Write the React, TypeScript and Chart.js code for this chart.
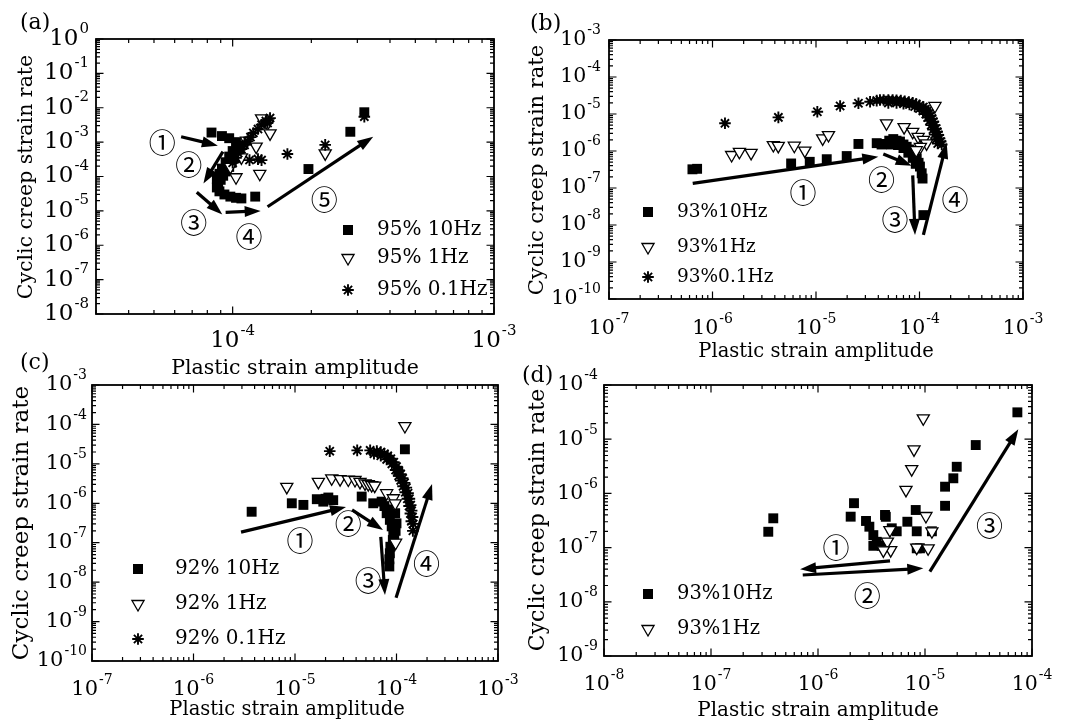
import React, { useEffect, useRef } from 'react';
import { Chart, registerables } from 'chart.js';

Chart.register(...registerables);

type P = [number, number];

// ---------------- Panel (a) ----------------
const a10Hz: P[] = [
  [8.3e-5, 1.9e-3], [9.1e-5, 1.5e-3], [9.7e-5, 1.3e-3], [1.03e-4, 1.0e-3], [1.07e-4, 8.0e-4],
  [1.06e-4, 6.2e-4], [1.04e-4, 4.6e-4], [1.02e-4, 3.4e-4], [9.9e-5, 2.5e-4], [9.7e-5, 1.9e-4],
  [9.4e-5, 1.4e-4], [9.2e-5, 1.05e-4], [9.0e-5, 8.0e-5], [8.8e-5, 6.2e-5], [8.7e-5, 4.8e-5],
  [8.9e-5, 3.7e-5], [9.3e-5, 3.0e-5], [9.8e-5, 2.6e-5], [1.03e-4, 2.4e-5], [1.08e-4, 2.3e-5],
  [1.0e-4, 5.5e-4], [9.7e-5, 3.8e-4], [9.4e-5, 2.6e-4], [9.1e-5, 1.7e-4], [8.9e-5, 1.2e-4],
  [8.7e-5, 8.5e-5], [1.22e-4, 2.6e-5], [1.95e-4, 1.65e-4], [2.82e-4, 2.0e-3], [3.19e-4, 7.4e-3],
];
const a1Hz: P[] = [
  [1.29e-4, 4.9e-3], [1.36e-4, 3.5e-3], [1.39e-4, 1.8e-3], [1.23e-4, 7.4e-4], [1.27e-4, 1.2e-4],
  [1.03e-4, 9.5e-5], [9.8e-5, 1.9e-4], [1.08e-4, 3.6e-4], [1.13e-4, 1.1e-3], [2.26e-4, 4.7e-4],
];
const a01Hz: P[] = [
  [1.0e-4, 2.5e-4], [1.03e-4, 3.5e-4], [1.05e-4, 4.8e-4], [1.08e-4, 6.3e-4], [1.11e-4, 8.3e-4],
  [1.14e-4, 1.07e-3], [1.17e-4, 1.4e-3], [1.2e-4, 1.85e-3], [1.25e-4, 2.4e-3], [1.29e-4, 3.2e-3],
  [1.34e-4, 4.1e-3], [1.39e-4, 5.0e-3], [1.36e-4, 3.6e-3], [1.16e-4, 3.0e-4], [1.25e-4, 3.2e-4],
  [1.29e-4, 3.0e-4], [1.62e-4, 4.5e-4], [2.26e-4, 8.3e-4], [3.19e-4, 5.5e-3],
];
const aArrows: [P, P][] = [
  [[6.35e-5, 1.44e-3], [8.78e-5, 7.9e-4]],
  [[9.18e-5, 5.3e-4], [7.73e-5, 6.3e-5]],
  [[7.29e-5, 3.5e-5], [9.13e-5, 7.9e-6]],
  [[9.4e-5, 9.1e-6], [1.28e-4, 1.0e-5]],
  [[1.36e-4, 1.32e-5], [3.45e-4, 1.44e-3]],
];
const aMarks: P[] = [[5.38e-5, 9.3e-4], [6.79e-5, 2.26e-4], [7.1e-5, 4.5e-6], [1.155e-4, 1.78e-6], [2.24e-4, 2.1e-5]];
const aXTicks = [1e-4, 1e-3];
const aYTicks = [1e0, 1e-1, 1e-2, 1e-3, 1e-4, 1e-5, 1e-6, 1e-7, 1e-8];
const aNames = ['95% 10Hz', '95% 1Hz', '95% 0.1Hz'];

// ---------------- Panel (b) ----------------
const b10Hz: P[] = [
  [6.4e-7, 3.2e-7], [7.1e-7, 3.3e-7], [5.75e-6, 4.6e-7], [8.7e-6, 5.1e-7], [1.27e-5, 6.0e-7],
  [1.98e-5, 7.3e-7], [2.57e-5, 1.55e-6], [3.86e-5, 1.63e-6], [4.3e-5, 1.5e-6], [4.64e-5, 1.55e-6],
  [5.1e-5, 1.9e-6], [5.58e-5, 2.1e-6], [6.0e-5, 1.9e-6], [6.48e-5, 1.8e-6], [7.0e-5, 1.5e-6],
  [7.52e-5, 1.3e-6], [8.0e-5, 1.1e-6], [8.4e-5, 9.6e-7], [8.9e-5, 7.8e-7], [9.4e-5, 6.3e-7],
  [9.8e-5, 4.8e-7], [1.01e-4, 3.8e-7], [1.05e-4, 2.5e-7], [1.07e-4, 1.8e-7], [5.3e-5, 1.5e-6],
  [6.2e-5, 1.45e-6], [7.0e-5, 1.2e-6], [7.8e-5, 9e-7], [8.6e-5, 6.5e-7], [9.2e-5, 4.5e-7],
  [1.09e-4, 1.85e-8],
];
const b1Hz: P[] = [
  [1.53e-6, 7.8e-7], [1.82e-6, 9.5e-7], [2.36e-6, 8.9e-7], [3.87e-6, 1.45e-6], [4.32e-6, 1.37e-6],
  [6.17e-6, 1.39e-6], [7.8e-6, 1.02e-6], [1.16e-5, 2.2e-6], [1.32e-5, 2.7e-6], [4.8e-5, 5.6e-6],
  [7.1e-5, 4.4e-6], [8.6e-5, 3.3e-6], [9.7e-5, 2.4e-6], [1.09e-4, 2.0e-6], [1.17e-4, 1.6e-6],
  [1.02e-4, 1.3e-6], [9.3e-5, 1.05e-6], [1.41e-4, 1.65e-5],
];
const b01Hz: P[] = [
  [1.32e-6, 5.6e-6], [4.33e-6, 8.1e-6], [1.03e-5, 1.15e-5], [1.71e-5, 1.65e-5], [2.57e-5, 1.95e-5],
  [3.33e-5, 2.15e-5], [3.86e-5, 2.3e-5], [4.15e-5, 2.4e-5], [4.5e-5, 2.4e-5], [5.0e-5, 2.4e-5],
  [5.5e-5, 2.4e-5], [6.0e-5, 2.35e-5], [6.6e-5, 2.3e-5], [7.2e-5, 2.2e-5], [7.9e-5, 2.1e-5],
  [8.6e-5, 2.0e-5], [9.3e-5, 1.85e-5], [1.0e-4, 1.7e-5], [1.09e-4, 1.55e-5], [1.14e-4, 1.35e-5],
  [1.18e-4, 1.2e-5], [1.23e-4, 1.05e-5], [1.28e-4, 9e-6], [1.32e-4, 7.5e-6], [1.36e-4, 6.2e-6],
  [1.4e-4, 5e-6], [1.44e-4, 4e-6], [1.48e-4, 3.3e-6], [1.52e-4, 2.7e-6], [1.56e-4, 2.2e-6],
  [1.6e-4, 1.8e-6], [1.64e-4, 1.5e-6], [5e-5, 2.0e-5], [6e-5, 2.0e-5], [7e-5, 1.9e-5],
  [8e-5, 1.8e-5], [9e-5, 1.6e-5], [1.0e-4, 1.4e-5], [1.08e-4, 1.2e-5], [1.15e-4, 1.0e-5],
  [1.2e-4, 8e-6], [1.25e-4, 6.5e-6], [1.3e-4, 5e-6], [1.35e-4, 3.8e-6], [1.4e-4, 2.8e-6],
  [1.45e-4, 2.1e-6], [1.5e-4, 1.6e-6],
];
const bArrows: [P, P][] = [
  [[6.44e-7, 1.34e-7], [4.0e-5, 7.0e-7]],
  [[4.47e-5, 8.3e-7], [8.4e-5, 4.0e-7]],
  [[8.6e-5, 2.2e-7], [9.05e-5, 5.4e-9]],
  [[1.09e-4, 5.4e-9], [1.83e-4, 1.67e-6]],
];
const bMarks: P[] = [[7.5e-6, 7.4e-8], [4.3e-5, 1.66e-7], [5.8e-5, 1.38e-8], [2.2e-4, 4.8e-8]];
const bXTicks = [1e-7, 1e-6, 1e-5, 1e-4, 1e-3];
const bYTicks = [1e-3, 1e-4, 1e-5, 1e-6, 1e-7, 1e-8, 1e-9, 1e-10];
const bNames = ['93%10Hz', '93%1Hz', '93%0.1Hz'];

// ---------------- Panel (c) ----------------
const c10Hz: P[] = [
  [3.74e-6, 6.1e-7], [9.3e-6, 1.0e-6], [1.21e-5, 9.1e-7], [1.64e-5, 1.27e-6], [1.9e-5, 1.1e-6],
  [2.13e-5, 1.4e-6], [2.38e-5, 1.2e-6], [2.0e-5, 1.3e-6], [4.54e-5, 1.48e-6], [5.9e-5, 1.0e-6],
  [7.14e-5, 1.1e-6], [1.21e-4, 2.34e-5], [1.04e-4, 6.3e-6], [8.0e-5, 5.6e-7], [8.6e-5, 3.8e-7],
  [8.97e-5, 2.6e-7], [9.3e-5, 1.74e-7], [9.2e-5, 1.17e-7], [8.7e-5, 7.9e-8], [8.6e-5, 5.4e-8],
  [8.5e-5, 3.8e-8], [8.5e-5, 2.5e-8], [9.7e-5, 5.6e-7], [1.0e-4, 3.1e-7], [9.8e-5, 2e-7],
  [9.5e-5, 1.3e-7], [7.6e-5, 8.5e-7], [8.3e-5, 7e-7],
];
const c1Hz: P[] = [
  [8.3e-6, 2.6e-6], [1.7e-5, 3.5e-6], [2.3e-5, 4.3e-6], [2.78e-5, 4.1e-6], [3.35e-5, 4.0e-6],
  [3.9e-5, 3.9e-6], [4.37e-5, 3.5e-6], [4.9e-5, 3.2e-6], [5.27e-5, 3.05e-6], [5.7e-5, 2.9e-6],
  [6.1e-5, 2.8e-6], [8.0e-5, 1.8e-6], [9.3e-5, 1.34e-6], [9.7e-5, 1.0e-6], [1.21e-4, 9.1e-5],
  [9.8e-5, 1.0e-7],
];
const c01Hz: P[] = [
  [2.2e-5, 2.1e-5], [4.1e-5, 2.2e-5], [5.5e-5, 2.2e-5], [6.4e-5, 2.1e-5], [7e-5, 2.0e-5],
  [7.6e-5, 1.8e-5], [8.2e-5, 1.6e-5], [8.8e-5, 1.35e-5], [9.4e-5, 1.1e-5], [1.0e-4, 8.5e-6],
  [1.05e-4, 6.8e-6], [1.1e-4, 5.5e-6], [1.15e-4, 4.3e-6], [1.2e-4, 3.3e-6], [1.25e-4, 2.5e-6],
  [1.3e-4, 1.8e-6], [1.34e-4, 1.3e-6], [1.38e-4, 9e-7], [1.41e-4, 6.5e-7], [1.44e-4, 4.5e-7],
  [1.46e-4, 3e-7], [1.45e-4, 2e-7], [6e-5, 1.8e-5], [7e-5, 1.6e-5], [8e-5, 1.3e-5],
  [9e-5, 1.0e-5], [9.8e-5, 7e-6], [1.05e-4, 5e-6], [1.1e-4, 3.8e-6], [1.16e-4, 2.7e-6],
  [1.22e-4, 1.9e-6], [1.28e-4, 1.3e-6], [1.33e-4, 8.5e-7], [1.37e-4, 5.5e-7], [1.4e-4, 3.5e-7],
];
const cArrows: [P, P][] = [
  [[2.94e-6, 1.85e-7], [3.18e-5, 8.1e-7]],
  [[3.65e-5, 6.8e-7], [7.36e-5, 2.1e-7]],
  [[7.0e-5, 1.4e-7], [7.7e-5, 4.7e-9]],
  [[9.9e-5, 4.0e-9], [2.24e-4, 3.1e-6]],
];
const cMarks: P[] = [[1.12e-5, 1.1e-7], [3.35e-5, 3.1e-7], [5.27e-5, 1.1e-8], [1.98e-4, 3.0e-8]];
const cXTicks = [1e-7, 1e-6, 1e-5, 1e-4, 1e-3];
const cYTicks = [1e-3, 1e-4, 1e-5, 1e-6, 1e-7, 1e-8, 1e-9, 1e-10];
const cNames = ['92% 10Hz', '92% 1Hz', '92% 0.1Hz'];

// ---------------- Panel (d) ----------------
const d10Hz: P[] = [
  [3.43e-7, 1.96e-7], [3.82e-7, 3.47e-7], [2.02e-6, 3.72e-7], [2.17e-6, 6.6e-7], [2.81e-6, 3.1e-7],
  [3.02e-6, 2.43e-7], [3.29e-6, 1.7e-7], [3.54e-6, 1.28e-7], [3.29e-6, 1.08e-7], [3.94e-6, 1.08e-7],
  [4.23e-6, 4.0e-7], [4.3e-6, 3.7e-7], [4.89e-6, 2.27e-7], [5.44e-6, 2.0e-7], [6.84e-6, 3.0e-7],
  [8.19e-6, 4.94e-7], [8.37e-6, 2.0e-7], [8.37e-6, 9.7e-8], [8.98e-6, 9.7e-8], [1.16e-5, 2.0e-7],
  [1.54e-5, 5.9e-7], [1.54e-5, 1.33e-6], [1.84e-5, 1.9e-6], [1.98e-5, 3.1e-6], [2.98e-5, 7.8e-6],
  [7.3e-5, 3.13e-5],
];
const d1Hz: P[] = [
  [9.64e-6, 2.43e-5], [7.89e-6, 6.5e-6], [7.51e-6, 2.8e-6], [6.64e-6, 1.16e-6], [1.02e-5, 3.83e-7],
  [4.45e-6, 1.29e-7], [4.78e-6, 9.0e-8], [4.08e-6, 8.9e-8], [8.37e-6, 1.0e-7], [1.07e-5, 9.7e-8],
  [4.7e-6, 2.1e-7], [1.16e-5, 2.0e-7],
];
const dArrows: [P, P][] = [
  [[4.71e-6, 5.67e-8], [6.8e-7, 4.0e-8]],
  [[7.2e-7, 3.12e-8], [9.64e-6, 4.15e-8]],
  [[1.11e-5, 3.59e-8], [7.45e-5, 1.52e-5]],
];
const dMarks: P[] = [[1.47e-6, 9.8e-8], [2.89e-6, 1.29e-8], [4.0e-5, 2.5e-7]];
const dXTicks = [1e-8, 1e-7, 1e-6, 1e-5, 1e-4];
const dYTicks = [1e-4, 1e-5, 1e-6, 1e-7, 1e-8, 1e-9];
const dNames = ['93%10Hz', '93%1Hz'];

const circled = ['\u2460', '\u2461', '\u2462', '\u2463', '\u2464'];

// ---------------- layout / style ----------------
const W = 1067;
const H = 727;
const FONT = '"DejaVu Serif", "Liberation Serif", serif';
const CFONT = '"Noto Sans CJK JP", "Noto Sans CJK SC", "DejaVu Sans", serif';
type Kind = 'sq' | 'tri' | 'star';
const kinds: Kind[] = ['sq', 'tri', 'star'];

interface PanelCfg {
  id: string;
  label: string;
  labelAt: [number, number];
  area: { l: number; t: number; r: number; b: number };
  xr: [number, number];
  yr: [number, number];
  xTicks: number[];
  yTicks: number[];
  tick: number;
  sup: number;
  xLabelDy: number;
  yLabelGap: number;
  xTitle: [number, number, number];
  yTitle: [number, number, number];
  legend: { mx: number; tx: number; ys: number[]; size: number };
  names: string[];
  series: P[][];
  arrows: [P, P][];
  marks: P[];
}

const panels: PanelCfg[] = [
  {
    id: 'a', label: '(a)', labelAt: [20, 23], area: { l: 96, t: 39, r: 494, b: 314 },
    xr: [3e-5, 1e-3], yr: [1e-8, 1], xTicks: aXTicks, yTicks: aYTicks, tick: 23, sup: 15,
    xLabelDy: 27, yLabelGap: 7, xTitle: [295, 369, 20.5], yTitle: [27, 177, 20.5],
    legend: { mx: 348, tx: 377, ys: [230, 258, 290], size: 20 }, names: aNames,
    series: [a10Hz, a1Hz, a01Hz], arrows: aArrows, marks: aMarks,
  },
  {
    id: 'b', label: '(b)', labelAt: [530, 24], area: { l: 609, t: 40, r: 1023, b: 299 },
    xr: [1e-7, 1e-3], yr: [1e-10, 1e-3], xTicks: bXTicks, yTicks: bYTicks, tick: 20.5, sup: 14,
    xLabelDy: 29.5, yLabelGap: 8, xTitle: [816, 352, 19.5], yTitle: [538, 170, 21],
    legend: { mx: 648, tx: 677, ys: [212, 247, 277], size: 18.5 }, names: bNames,
    series: [b10Hz, b1Hz, b01Hz], arrows: bArrows, marks: bMarks,
  },
  {
    id: 'c', label: '(c)', labelAt: [20, 363], area: { l: 92, t: 385, r: 498, b: 661 },
    xr: [1e-7, 1e-3], yr: [1e-10, 1e-3], xTicks: cXTicks, yTicks: cYTicks, tick: 21, sup: 14,
    xLabelDy: 29, yLabelGap: 5, xTitle: [287, 710, 19.5], yTitle: [22, 523, 23],
    legend: { mx: 138, tx: 175, ys: [569, 604, 639], size: 20 }, names: cNames,
    series: [c10Hz, c1Hz, c01Hz], arrows: cArrows, marks: cMarks,
  },
  {
    id: 'd', label: '(d)', labelAt: [522, 376], area: { l: 604, t: 385, r: 1032, b: 656 },
    xr: [1e-8, 1e-4], yr: [1e-9, 1e-4], xTicks: dXTicks, yTicks: dYTicks, tick: 20.5, sup: 14,
    xLabelDy: 29, yLabelGap: 6, xTitle: [818, 711, 20], yTitle: [538, 520, 22],
    legend: { mx: 648, tx: 677, ys: [594, 629], size: 19.5 }, names: dNames,
    series: [d10Hz, d1Hz], arrows: dArrows, marks: dMarks,
  },
];

function datasetStyle(kind: Kind) {
  if (kind === 'sq') {
    return { pointStyle: 'rect', pointRadius: 7, backgroundColor: '#000', borderColor: '#000', borderWidth: 0, order: 3 };
  }
  if (kind === 'tri') {
    return { pointStyle: 'triangle', pointRotation: 180, pointRadius: 7, backgroundColor: '#fff', borderColor: '#000', borderWidth: 1.3, order: 2 };
  }
  return { pointStyle: 'star', pointRadius: 5.8, backgroundColor: '#000', borderColor: '#000', borderWidth: 1.9, order: 1 };
}

function drawMarker(ctx: CanvasRenderingContext2D, kind: Kind, x: number, y: number) {
  ctx.save();
  ctx.fillStyle = '#000';
  ctx.strokeStyle = '#000';
  if (kind === 'sq') {
    ctx.fillRect(x - 5, y - 5, 10, 10);
  } else if (kind === 'tri') {
    const r = 7;
    ctx.beginPath();
    ctx.moveTo(x, y + r);
    ctx.lineTo(x - 0.866 * r, y - 0.5 * r);
    ctx.lineTo(x + 0.866 * r, y - 0.5 * r);
    ctx.closePath();
    ctx.fillStyle = '#fff';
    ctx.fill();
    ctx.lineWidth = 1.3;
    ctx.stroke();
  } else {
    const r = 5.8;
    const d = r * Math.SQRT1_2;
    ctx.lineWidth = 1.9;
    ctx.beginPath();
    ctx.moveTo(x - r, y); ctx.lineTo(x + r, y);
    ctx.moveTo(x, y - r); ctx.lineTo(x, y + r);
    ctx.moveTo(x - d, y - d); ctx.lineTo(x + d, y + d);
    ctx.moveTo(x - d, y + d); ctx.lineTo(x + d, y - d);
    ctx.stroke();
  }
  ctx.restore();
}

function drawPow(ctx: CanvasRenderingContext2D, v: number, x: number, y: number, align: 'center' | 'right', base: number, sup: number) {
  const ex = Math.round(Math.log10(v));
  const e = ex < 0 ? '-' + Math.abs(ex) : String(ex);
  ctx.font = `${base}px ${FONT}`;
  const wb = ctx.measureText('10').width;
  ctx.font = `${sup}px ${FONT}`;
  const ws = ctx.measureText(e).width;
  const total = wb + ws + 1;
  const x0 = align === 'center' ? x - total / 2 : x - total;
  ctx.textAlign = 'left';
  ctx.textBaseline = 'middle';
  ctx.font = `${base}px ${FONT}`;
  ctx.fillText('10', x0, y);
  ctx.font = `${sup}px ${FONT}`;
  ctx.fillText(e, x0 + wb + 1, y - base * 0.45);
}

function drawArrow(ctx: CanvasRenderingContext2D, x1: number, y1: number, x2: number, y2: number) {
  const ang = Math.atan2(y2 - y1, x2 - x1);
  const hl = 16;
  const hw = 5.5;
  const bx = x2 - Math.cos(ang) * hl * 0.85;
  const by = y2 - Math.sin(ang) * hl * 0.85;
  ctx.save();
  ctx.strokeStyle = '#000';
  ctx.fillStyle = '#000';
  ctx.lineWidth = 3.2;
  ctx.beginPath();
  ctx.moveTo(x1, y1);
  ctx.lineTo(bx, by);
  ctx.stroke();
  const px = -Math.sin(ang);
  const py = Math.cos(ang);
  const hx = x2 - Math.cos(ang) * hl;
  const hy = y2 - Math.sin(ang) * hl;
  ctx.beginPath();
  ctx.moveTo(x2, y2);
  ctx.lineTo(hx + px * hw, hy + py * hw);
  ctx.lineTo(hx - px * hw, hy - py * hw);
  ctx.closePath();
  ctx.fill();
  ctx.restore();
}

function decorPlugin(cfg: PanelCfg) {
  return {
    id: 'decor_' + cfg.id,
    afterDatasetsDraw(chart: any) {
      const ctx: CanvasRenderingContext2D = chart.ctx;
      const xs = chart.scales.x;
      const ys = chart.scales.y;
      const { left, top, right, bottom } = chart.chartArea;
      ctx.save();
      ctx.fillStyle = '#000';
      ctx.strokeStyle = '#000';

      // arrows
      cfg.arrows.forEach(([s, e]) => {
        drawArrow(ctx, xs.getPixelForValue(s[0]), ys.getPixelForValue(s[1]), xs.getPixelForValue(e[0]), ys.getPixelForValue(e[1]));
      });
      // circled step numbers
      ctx.font = `27px ${CFONT}`;
      ctx.textAlign = 'center';
      ctx.textBaseline = 'middle';
      cfg.marks.forEach((m, i) => {
        ctx.fillText(circled[i], xs.getPixelForValue(m[0]), ys.getPixelForValue(m[1]));
      });

      // frame
      ctx.lineWidth = 1.8;
      ctx.strokeRect(left, top, right - left, bottom - top);

      // inward log ticks
      ctx.lineWidth = 1.2;
      ctx.beginPath();
      const logTicks = (scale: any, lo: number, hi: number, cb: (p: number, major: boolean) => void) => {
        const d0 = Math.floor(Math.log10(lo) + 1e-9);
        const d1 = Math.ceil(Math.log10(hi) - 1e-9);
        for (let d = d0; d <= d1; d++) {
          for (let k = 1; k <= 9; k++) {
            const v = k * Math.pow(10, d);
            if (v < lo * (1 - 1e-9) || v > hi * (1 + 1e-9)) continue;
            cb(scale.getPixelForValue(v), k === 1);
          }
        }
      };
      logTicks(xs, cfg.xr[0], cfg.xr[1], (p, major) => {
        const len = major ? 7.5 : 4;
        ctx.moveTo(p, bottom); ctx.lineTo(p, bottom - len);
        ctx.moveTo(p, top); ctx.lineTo(p, top + len);
      });
      logTicks(ys, cfg.yr[0], cfg.yr[1], (p, major) => {
        const len = major ? 7.5 : 4;
        ctx.moveTo(left, p); ctx.lineTo(left + len, p);
        ctx.moveTo(right, p); ctx.lineTo(right - len, p);
      });
      ctx.stroke();

      // tick labels
      cfg.xTicks.forEach((v) => drawPow(ctx, v, xs.getPixelForValue(v), bottom + cfg.xLabelDy, 'center', cfg.tick, cfg.sup));
      cfg.yTicks.forEach((v) => drawPow(ctx, v, left - cfg.yLabelGap, ys.getPixelForValue(v), 'right', cfg.tick, cfg.sup));

      // axis titles
      ctx.textAlign = 'center';
      ctx.textBaseline = 'middle';
      ctx.font = `${cfg.xTitle[2]}px ${FONT}`;
      ctx.fillText('Plastic strain amplitude', cfg.xTitle[0], cfg.xTitle[1]);
      ctx.save();
      ctx.translate(cfg.yTitle[0], cfg.yTitle[1]);
      ctx.rotate(-Math.PI / 2);
      ctx.font = `${cfg.yTitle[2]}px ${FONT}`;
      ctx.fillText('Cyclic creep strain rate', 0, 0);
      ctx.restore();

      // legend
      cfg.names.forEach((n, i) => {
        const y = cfg.legend.ys[i];
        drawMarker(ctx, kinds[i], cfg.legend.mx, y);
        ctx.fillStyle = '#000';
        ctx.font = `${cfg.legend.size}px ${FONT}`;
        ctx.textAlign = 'left';
        ctx.textBaseline = 'middle';
        ctx.fillText(n, cfg.legend.tx, y);
      });

      // panel label
      ctx.font = `22px ${FONT}`;
      ctx.textAlign = 'left';
      ctx.textBaseline = 'middle';
      ctx.fillText(cfg.label, cfg.labelAt[0], cfg.labelAt[1]);
      ctx.restore();
    },
  };
}

function Panel({ cfg }: { cfg: PanelCfg }) {
  const ref = useRef<HTMLCanvasElement>(null);
  useEffect(() => {
    const canvas = ref.current;
    if (!canvas) return;
    const chart = new Chart(canvas, {
      type: 'scatter',
      data: {
        datasets: cfg.series.map((s, i) => ({
          label: cfg.names[i],
          data: s.map(([x, y]) => ({ x, y })),
          ...(datasetStyle(kinds[i]) as any),
        })),
      },
      options: {
        animation: false,
        responsive: false,
        events: [],
        layout: {
          padding: { left: cfg.area.l, top: cfg.area.t, right: W - cfg.area.r, bottom: H - cfg.area.b },
        },
        plugins: { legend: { display: false }, tooltip: { enabled: false } },
        scales: {
          x: { type: 'logarithmic', min: cfg.xr[0], max: cfg.xr[1], display: false, bounds: 'data' },
          y: { type: 'logarithmic', min: cfg.yr[0], max: cfg.yr[1], display: false, bounds: 'data' },
        },
      } as any,
      plugins: [decorPlugin(cfg)],
    });
    return () => chart.destroy();
  }, [cfg]);
  return (
    <canvas
      ref={ref}
      width={W}
      height={H}
      style={{ position: 'absolute', left: 0, top: 0, width: W, height: H }}
    />
  );
}

export default function App() {
  return (
    <div style={{ position: 'absolute', left: 0, top: 0, width: W, height: H, background: '#fff', overflow: 'hidden' }}>
      {panels.map((p) => (
        <Panel key={p.id} cfg={p} />
      ))}
    </div>
  );
}
